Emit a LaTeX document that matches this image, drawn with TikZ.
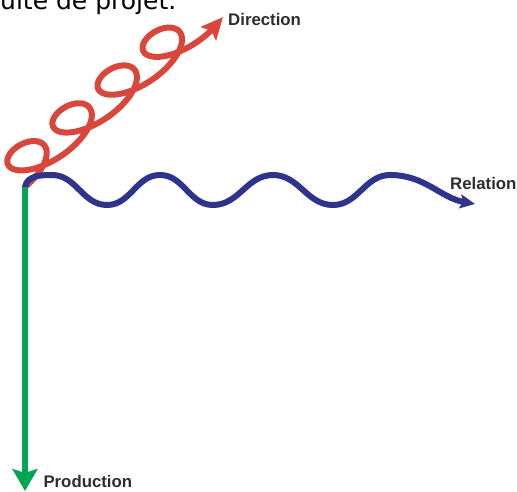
\documentclass[tikz,border=0pt]{standalone}
\usepackage{fontspec}
\setmainfont{Liberation Sans}
\newfontfamily\notefont{DejaVu Sans}
\usetikzlibrary{arrows.meta}

\definecolor{dirred}{RGB}{217,70,60}
\definecolor{relblue}{RGB}{46,52,140}
\definecolor{prodgreen}{RGB}{0,166,81}
\definecolor{labelgray}{RGB}{45,45,45}

\begin{document}
\begin{tikzpicture}[x=1pt, y=1pt,
		curve/.style={line width=6pt, line cap=round},
		axislabel/.style={font=\bfseries\fontsize{16.8}{18}\selectfont, text=labelgray, inner sep=0pt, anchor=base west}]
	\useasboundingbox (-25,-304) rectangle (492,187);
	\def\ra{9.37}\def\rb{33}\def\rc{18}\def\rk{0.35}
	\coordinate (O) at (0,0);
	\coordinate (dirtip) at (198,170);
	\coordinate (reltip) at (450,-17);
	\coordinate (prodtip) at (0,-304);
	% cut-off caption line
	\node[anchor=base west, inner sep=0pt, font=\notefont\fontsize{25}{30}\selectfont] (caption) at (-25,178) {uite de projet.};
	% ---------------- direction: loops ----------------
	\begin{scope}[rotate=40]
		\draw[curve, dirred, -{Stealth[length=22pt,width=20pt,inset=4pt]}]
			plot[domain=0:25.38, samples=400, variable=\t]
			({\ra*\t+\rb*sin(\t r)-\rk*\rc*(1-cos(\t r))}, {\rc*(1-cos(\t r))}) -- (dirtip);
	\end{scope}
	% ---------------- relation: wave ----------------
	\draw[curve, relblue, -{Stealth[length=15pt,width=14pt,inset=3pt]}] (O)
		to[out=80,in=180] (27,12) to[out=0,in=180] (82,-18)
		to[out=0,in=180] (135,12) to[out=0,in=180] (188,-18)
		to[out=0,in=180] (248,12) to[out=0,in=180] (308,-18)
		to[out=0,in=180] (365,12) to[out=0,in=170] (reltip);
	% ---------------- production ----------------
	\draw[line width=5.5pt, prodgreen, -{Stealth[length=22pt,width=25pt,inset=4pt]}] (O) -- (prodtip);
	% labels
	\node[axislabel] (dirlabel) at (203,162) {Direction};
	\node[axislabel] (rellabel) at (425,-2.3) {Relation};
	\node[axislabel] (prodlabel) at (18.3,-300.3) {Production};
\end{tikzpicture}
\end{document}
